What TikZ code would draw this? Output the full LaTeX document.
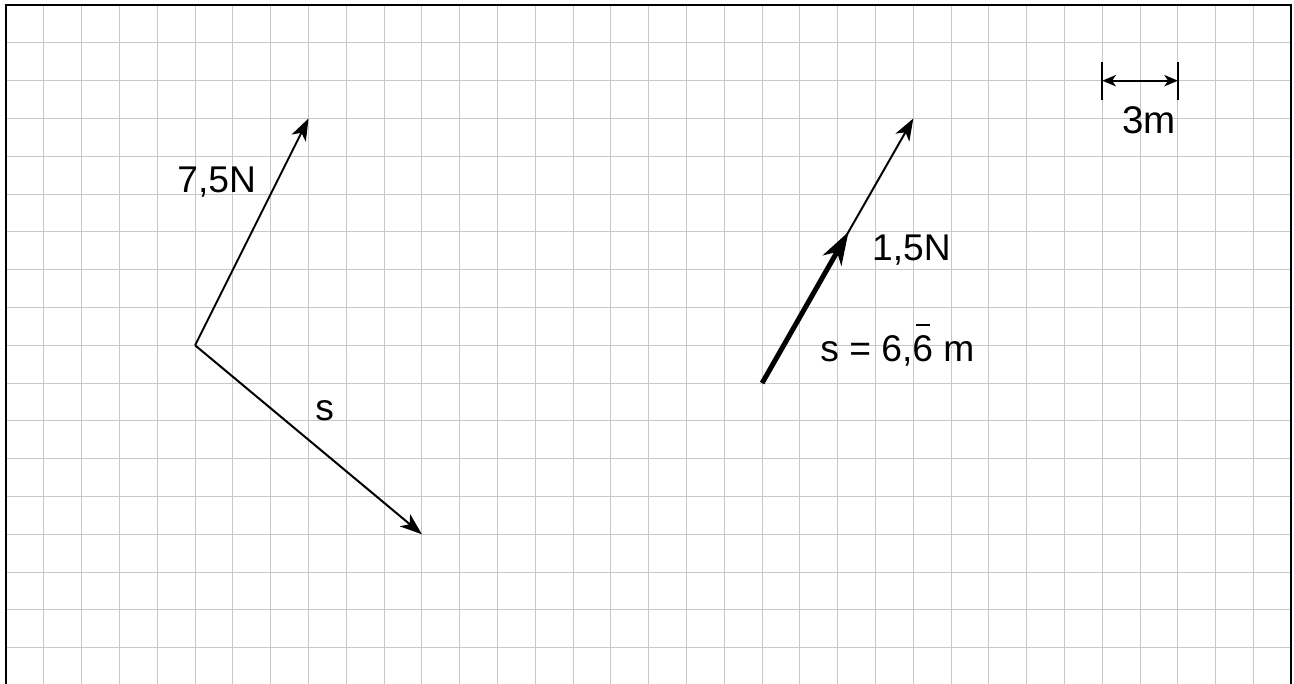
\documentclass[tikz,border=0pt]{standalone}
\usepackage{fontspec}
\setmainfont{Liberation Sans}
\usetikzlibrary{arrows.meta}
\definecolor{gridgray}{RGB}{200,200,196}
\begin{document}
\begin{tikzpicture}[x=1cm,y=1cm,
  gridline/.style={draw=gridgray, line width=0.8pt},
  frame/.style={draw=black, line width=1.5pt},
  thinvec/.style={line width=1.5pt, -{Stealth[length=0.58cm,width=0.42cm,inset=0.16cm]}},
  thickvec/.style={line width=3.8pt, -{Stealth[length=0.87cm,width=0.56cm,inset=0.26cm]}},
  scalevec/.style={line width=1.5pt, {Stealth[length=0.36cm,width=0.3cm,inset=0.1cm]}-{Stealth[length=0.36cm,width=0.3cm,inset=0.1cm]}},
  tick/.style={line width=1.5pt},
  lbl/.style={font=\fontsize{28}{33}\selectfont, inner sep=0pt, anchor=base}]
\useasboundingbox (-0.16138,0.13492) rectangle (34.07142,-17.96028);
% grid
\foreach \i in {1,...,33} \draw[gridline] (\i,0) -- (\i,-17.96);
\foreach \j in {1,...,17} \draw[gridline] (0,-\j) -- (34,-\j);
% frame
\draw[frame] (0,-17.96) -- (0,0) -- (34,0) -- (34,-17.96);
% left figure
\coordinate (O1) at (5,-9);
\coordinate (F1) at (8,-3);
\coordinate (S1) at (11,-14);
\draw[thinvec] (O1) -- (F1);
\draw[thinvec] (O1) -- (S1);
\node[lbl] (l75) at (5.57,-4.97) {7,5N};
\node[lbl] (ls) at (8.43,-10.98) {s};
% right figure
\coordinate (O2) at (20,-10);
\coordinate (F2) at (24,-3);
\coordinate (T2) at ({20+16/7},-6);
\draw[thinvec] (O2) -- (F2);
\draw[thickvec] (O2) -- (T2);
\node[lbl] (l15) at (23.95,-6.75) {1,5N};
\node[lbl] (ls2) at (23.58,-9.44) {s = 6,\makebox[0pt][l]{\hspace{0.1em}\rule[0.97em]{0.38em}{0.06em}}6 m};
% scale bar
\coordinate (A1) at (29,-1.5);
\coordinate (A2) at (29,-2.5);
\coordinate (B1) at (31,-1.5);
\coordinate (B2) at (31,-2.5);
\coordinate (SA) at (29,-2);
\coordinate (SB) at (31,-2);
\draw[tick] (A1) -- (A2);
\draw[tick] (B1) -- (B2);
\draw[scalevec] (SA) -- (SB);
\node[lbl, font=\fontsize{29}{34}\selectfont] (l3m) at (30.24,-3.40) {3m};
\end{tikzpicture}
\end{document}
